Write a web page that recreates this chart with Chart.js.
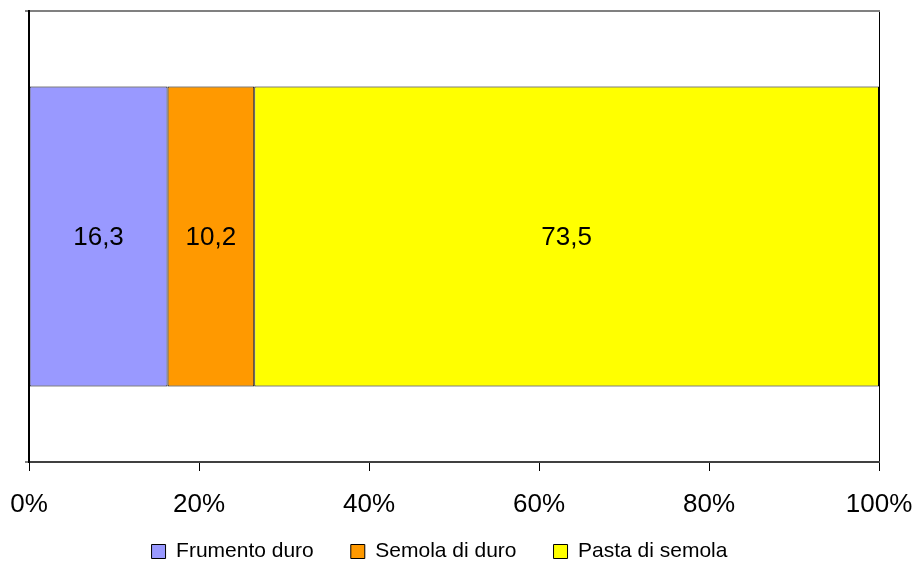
<!DOCTYPE html>
<html>
<head>
<meta charset="utf-8">
<script src="https://cdn.jsdelivr.net/npm/chart.js@4/dist/chart.umd.min.js"></script>
<style>
  html, body { margin: 0; padding: 0; background: #ffffff; }
  #wrap { width: 916px; height: 563px; }
</style>
</head>
<body>
<div id="wrap"><canvas id="c" width="916" height="563"></canvas></div>
<script>
// Share of value along the durum wheat chain (percent)
const categories = [''];
const seriesNames = ['Frumento duro', 'Semola di duro', 'Pasta di semola'];
const frumentoDuro = [16.3];
const semolaDiDuro = [10.2];
const pastaDiSemola = [73.5];
const seriesColors = ['#9999FF', '#FF9900', '#FFFF00'];
const xTicks = [0, 20, 40, 60, 80, 100];

const FONT = '"Liberation Sans", Arial, Helvetica, sans-serif';

// Writes each segment's value in the middle of its bar, Italian decimal comma
const segmentLabels = {
  id: 'segmentLabels',
  afterDatasetsDraw(chart) {
    const ctx = chart.ctx;
    ctx.save();
    ctx.font = '26px ' + FONT;
    ctx.fillStyle = '#000000';
    ctx.textAlign = 'center';
    ctx.textBaseline = 'middle';
    chart.data.datasets.forEach((ds, i) => {
      const meta = chart.getDatasetMeta(i);
      meta.data.forEach((bar, j) => {
        const v = ds.data[j];
        const cx = (bar.x + bar.base) / 2;
        ctx.fillText(v.toFixed(1).replace('.', ','), cx, bar.y + 1);
      });
    });
    ctx.restore();
  }
};

// The percent labels sit lower than the axis box; let them run down to the legend
const roomForTickLabels = {
  id: 'roomForTickLabels',
  afterLayout(chart) {
    const x = chart.scales.x;
    if (x) x.bottom = chart.height;
  }
};

const seriesData = [frumentoDuro, semolaDiDuro, pastaDiSemola];

new Chart(document.getElementById('c'), {
  type: 'bar',
  data: {
    labels: categories,
    datasets: seriesNames.map((name, i) => ({
      label: name,
      data: seriesData[i],
      backgroundColor: seriesColors[i],
      borderColor: '#000000',
      borderWidth: 1,
      borderSkipped: false,
      barPercentage: 0.665,
      categoryPercentage: 1.0
    }))
  },
  options: {
    indexAxis: 'y',
    responsive: false,
    animation: false,
    devicePixelRatio: 1,
    layout: { padding: { top: 11, right: 37, left: 0, bottom: 0 } },
    scales: {
      x: {
        stacked: true,
        min: 0,
        max: 100,
        afterBuildTicks(scale) { scale.ticks = xTicks.map(v => ({ value: v })); },
        afterFit(scale) {
          scale.height = 42;
          scale.paddingLeft = 0;
          scale.paddingRight = 0;
        },
        ticks: {
          padding: 18,
          color: '#000000',
          font: { family: FONT, size: 26 },
          callback: v => v + '%',
          maxRotation: 0,
          autoSkip: false
        },
        grid: {
          drawOnChartArea: true,
          color: ctx => (ctx.tick && ctx.tick.value === 100) ? '#000000' : 'rgba(0,0,0,0)',
          tickColor: '#000000',
          tickLength: 9,
          lineWidth: 1
        },
        border: { display: true, color: '#404040', width: 2 }
      },
      xTop: {
        type: 'linear',
        position: 'top',
        min: 0,
        max: 100,
        afterFit(scale) {
          scale.height = 0;
          scale.paddingLeft = 0;
          scale.paddingRight = 0;
        },
        ticks: { display: false },
        grid: { display: false },
        border: { display: true, color: '#808080', width: 2 }
      },
      y: {
        stacked: true,
        afterFit(scale) { scale.width = 29; },
        ticks: { display: false },
        grid: {
          offset: true,
          color: '#808080',
          tickColor: '#808080',
          tickLength: 4,
          lineWidth: 2
        },
        border: { display: true, color: '#000000', width: 2 }
      }
    },
    plugins: {
      legend: {
        position: 'bottom',
        maxHeight: 59,
        labels: {
          boxWidth: 14,
          boxHeight: 14,
          padding: 37,
          color: '#000000',
          font: { family: FONT, size: 21 }
        }
      },
      tooltip: { enabled: false }
    }
  },
  plugins: [segmentLabels, roomForTickLabels]
});
</script>
</body>
</html>
